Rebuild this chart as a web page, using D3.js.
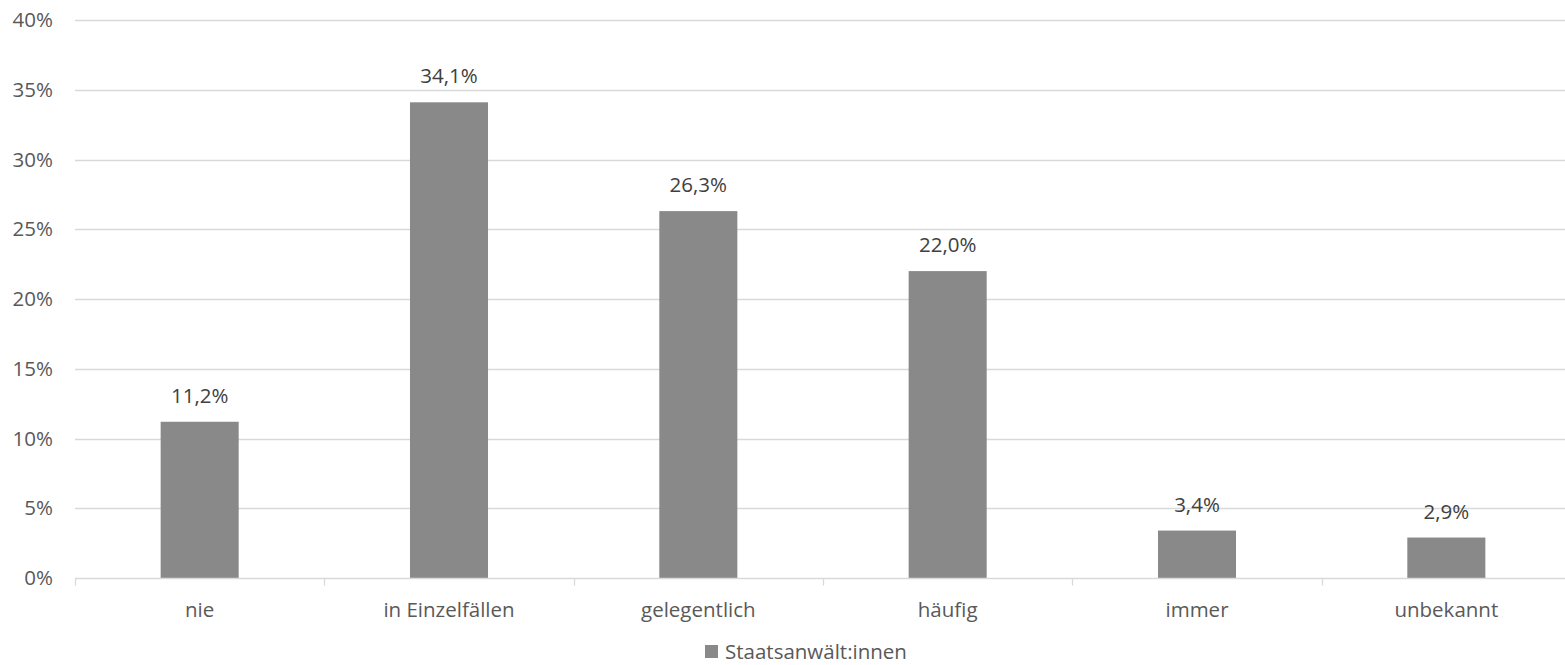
<!DOCTYPE html>
<html lang="de">
<head>
<meta charset="utf-8">
<script src="https://cdn.jsdelivr.net/npm/d3@7"></script>
<style>
  html, body { margin: 0; padding: 0; background: #fff; }
  svg { display: block; font-family: "Open Sans", "Noto Sans", sans-serif; }
</style>
</head>
<body>
<svg id="chart" width="1565" height="665"></svg>
<script>
// Antworthäufigkeit der Staatsanwält:innen (Anteile in %)
const categories = ["nie", "in Einzelfällen", "gelegentlich", "häufig", "immer", "unbekannt"];
const values = [11.2, 34.1, 26.3, 22.0, 3.4, 2.9];
const yTicks = [0, 5, 10, 15, 20, 25, 30, 35, 40];
const seriesName = "Staatsanwält:innen";

const svg = d3.select("#chart");
const margin = { left: 75, right: -6, top: 20, bottom: 87 };
const width = 1565, height = 665;
const fontFamily = '"Open Sans", "Noto Sans", sans-serif';
const fontSize = 20.5;

const de = d3.formatLocale({ decimal: ",", thousands: ".", grouping: [3], currency: ["", " €"] });
const fmtValue = de.format(".1f");

const x = d3.scaleBand()
  .domain(categories)
  .range([margin.left, width - margin.right])
  .paddingInner(0.687)
  .paddingOuter(0.3435);

const y = d3.scaleLinear()
  .domain([0, 40])
  .range([height - margin.bottom, margin.top]);

const textColor = "#595959";
const gridColor = "#d9d9d9";
const barColor = "#898989";

// horizontal gridlines
svg.append("g")
  .selectAll("line")
  .data(yTicks.filter(d => d > 0))
  .join("line")
  .attr("x1", margin.left)
  .attr("x2", width)
  .attr("y1", d => Math.round(y(d)) + 0.5)
  .attr("y2", d => Math.round(y(d)) + 0.5)
  .attr("stroke", gridColor)
  .attr("stroke-width", 1.3);

// y axis labels
const yAxis = d3.axisLeft(y).tickValues(yTicks).tickSize(0).tickPadding(22)
  .tickFormat(d => d + "%");
const yg = svg.append("g")
  .attr("transform", `translate(${margin.left},0)`)
  .call(yAxis)
  .attr("font-family", fontFamily)
  .attr("font-size", fontSize);
yg.select(".domain").remove();
yg.selectAll("text").attr("fill", textColor);

// bars
svg.append("g")
  .selectAll("rect")
  .data(values)
  .join("rect")
  .attr("x", (d, i) => x(categories[i]))
  .attr("width", x.bandwidth())
  .attr("y", d => y(d))
  .attr("height", d => y(0) - y(d))
  .attr("fill", barColor);

// value labels
svg.append("g")
  .selectAll("text")
  .data(values)
  .join("text")
  .attr("x", (d, i) => x(categories[i]) + x.bandwidth() / 2)
  .attr("y", d => y(d) - 19)
  .attr("text-anchor", "middle")
  .attr("fill", "#404040")
  .attr("font-size", fontSize)
  .text(d => fmtValue(d) + "%");

// x axis with category separators
const step = x.step();
const xg = svg.append("g").attr("transform", `translate(0,${Math.round(y(0)) + 0.5})`);
xg.append("line")
  .attr("x1", margin.left).attr("x2", width)
  .attr("stroke", gridColor).attr("stroke-width", 1.3);
xg.selectAll("line.sep")
  .data(d3.range(categories.length + 1))
  .join("line")
  .attr("class", "sep")
  .attr("x1", i => Math.round(margin.left + i * step) + 0.5)
  .attr("x2", i => Math.round(margin.left + i * step) + 0.5)
  .attr("y1", 0).attr("y2", 7)
  .attr("stroke", gridColor).attr("stroke-width", 1.3);
xg.selectAll("text")
  .data(categories)
  .join("text")
  .attr("x", d => x(d) + x.bandwidth() / 2)
  .attr("y", 38)
  .attr("text-anchor", "middle")
  .attr("fill", textColor)
  .attr("font-size", fontSize)
  .text(d => d);

// legend
const legend = svg.append("g").attr("transform", "translate(705,645)");
legend.append("rect").attr("width", 13).attr("height", 13).attr("fill", barColor);
legend.append("text")
  .attr("x", 20).attr("y", 13.5)
  .attr("fill", textColor)
  .attr("font-size", fontSize)
  .text(seriesName);
</script>
</body>
</html>
